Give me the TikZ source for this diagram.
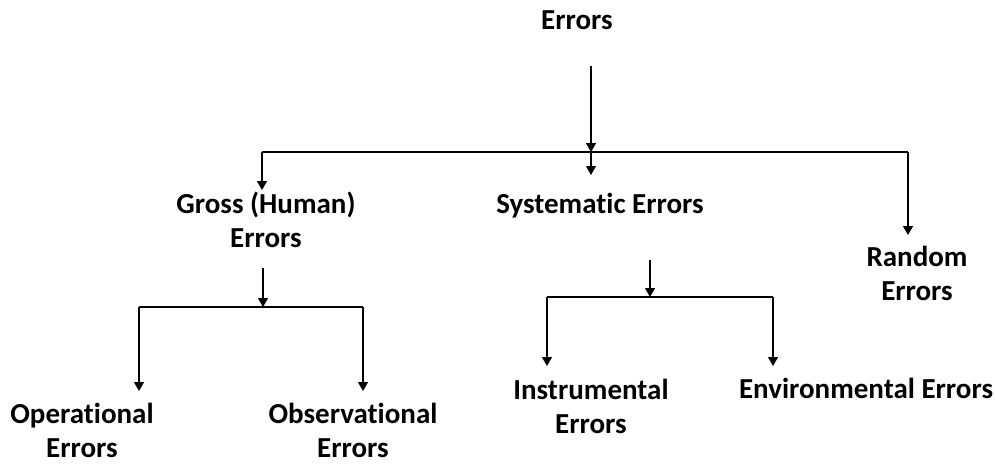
\documentclass[tikz,border=0pt]{standalone}
\usepackage{fontspec}
\setmainfont{Carlito}[Ligatures=NoCommon]
\usetikzlibrary{arrows.meta}
\begin{document}
\begin{tikzpicture}[x=1pt,y=-1pt,
  lbl/.style={font=\fontsize{29}{34}\selectfont\bfseries, align=center, inner sep=0pt, anchor=base},
  arr/.style={line width=1.4pt, -{Triangle[width=10pt,length=9pt]}},
  ln/.style={line width=1.4pt}]
\useasboundingbox (0,0) rectangle (995,463);
% nodes (base anchor = baseline of the last line)
\node[lbl] (err) at (577,29) {Errors};
\node[lbl] (gross) at (266,247) {Gross (Human)\\Errors};
\node[lbl] (sys) at (600,213) {Systematic Errors};
\node[lbl] (rand) at (917,300) {Random\\Errors};
\node[lbl] (op) at (82,457) {Operational\\Errors};
\node[lbl] (obs) at (353,457) {Observational\\Errors};
\node[lbl] (ins) at (591,433) {Instrumental\\Errors};
\node[lbl] (env) at (866,398) {Environmental Errors};
% junctions
\coordinate (s1) at (591,66);
\coordinate (j1) at (591,152);
\coordinate (j1l) at (262,152);
\coordinate (j1r) at (908,152);
\coordinate (t1l) at (262,190);
\coordinate (t1m) at (591,175);
\coordinate (t1r) at (908,235);
\coordinate (s2) at (263,268);
\coordinate (j2) at (263,307);
\coordinate (j2l) at (139,307);
\coordinate (j2r) at (363,307);
\coordinate (t2l) at (139,391);
\coordinate (t2r) at (363,391);
\coordinate (s3) at (650,260);
\coordinate (j3) at (650,297);
\coordinate (j3l) at (547,297);
\coordinate (j3r) at (773,297);
\coordinate (t3l) at (547,366);
\coordinate (t3r) at (773,366);
% connectors
\draw[arr] (s1) -- (j1);
\draw[ln] (j1l) -- (j1r);
\draw[arr] (j1l) -- (t1l);
\draw[arr] (j1) -- (t1m);
\draw[arr] (j1r) -- (t1r);
\draw[arr] (s2) -- (j2);
\draw[ln] (j2l) -- (j2r);
\draw[arr] (j2l) -- (t2l);
\draw[arr] (j2r) -- (t2r);
\draw[arr] (s3) -- (j3);
\draw[ln] (j3l) -- (j3r);
\draw[arr] (j3l) -- (t3l);
\draw[arr] (j3r) -- (t3r);
\end{tikzpicture}
\end{document}
